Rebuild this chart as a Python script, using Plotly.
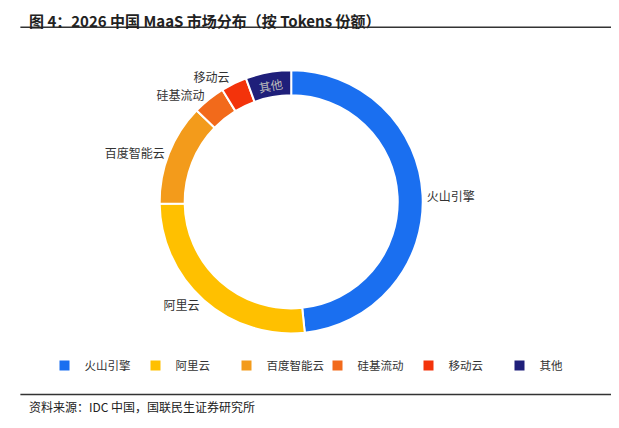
import plotly.graph_objects as go

labels = ["火山引擎", "阿里云", "百度智能云", "硅基流动", "移动云", "其他"]
values = [48.5, 26.5, 12.5, 4.0, 3.2, 5.6]
colors = ["#1a6ff0", "#ffc000", "#f39b1b", "#f26a1b", "#f3330b", "#1f1f7a"]
positions = ["outside", "outside", "outside", "outside", "outside", "inside"]

fig = go.Figure(go.Pie(
    labels=labels, values=values, hole=0.81, sort=False, direction="clockwise",
    rotation=0, marker=dict(colors=colors, line=dict(color="white", width=2)),
    textinfo="label", textposition=positions,
    textfont=dict(size=12, color="#333"), insidetextfont=dict(color="#bbbbbb"),
    domain=dict(x=[0.245, 0.67], y=[0.197, 0.897]), showlegend=True,
))
fig.update_layout(
    width=619, height=428, margin=dict(l=0, r=0, t=0, b=0),
    paper_bgcolor="white", font=dict(family="Noto Sans CJK SC", size=12, color="#333"),
    legend=dict(orientation="h", x=0.5, xanchor="center", y=0.165, yanchor="middle",
                font=dict(size=11.5), itemwidth=30, entrywidth=46, entrywidthmode="pixels"),
    annotations=[
        dict(text="<b>图 4：2026 中国 MaaS 市场分布（按 Tokens 份额）</b>", x=0.03, y=1.0,
             xref="paper", yref="paper", xanchor="left", yanchor="top", showarrow=False,
             font=dict(size=15, color="#222")),
        dict(text="资料来源：IDC 中国，国联民生证券研究所", x=0.03, y=0.07,
             xref="paper", yref="paper", xanchor="left", yanchor="middle", showarrow=False,
             font=dict(size=12, color="#222")),
    ],
    shapes=[
        dict(type="line", xref="paper", yref="paper", x0=0.02, x1=0.975, y0=0.955, y1=0.955,
             line=dict(color="#333", width=1.5)),
        dict(type="line", xref="paper", yref="paper", x0=0.02, x1=0.975, y0=0.097, y1=0.097,
             line=dict(color="#333", width=1.5)),
    ],
)
fig.write_html("out.html")
